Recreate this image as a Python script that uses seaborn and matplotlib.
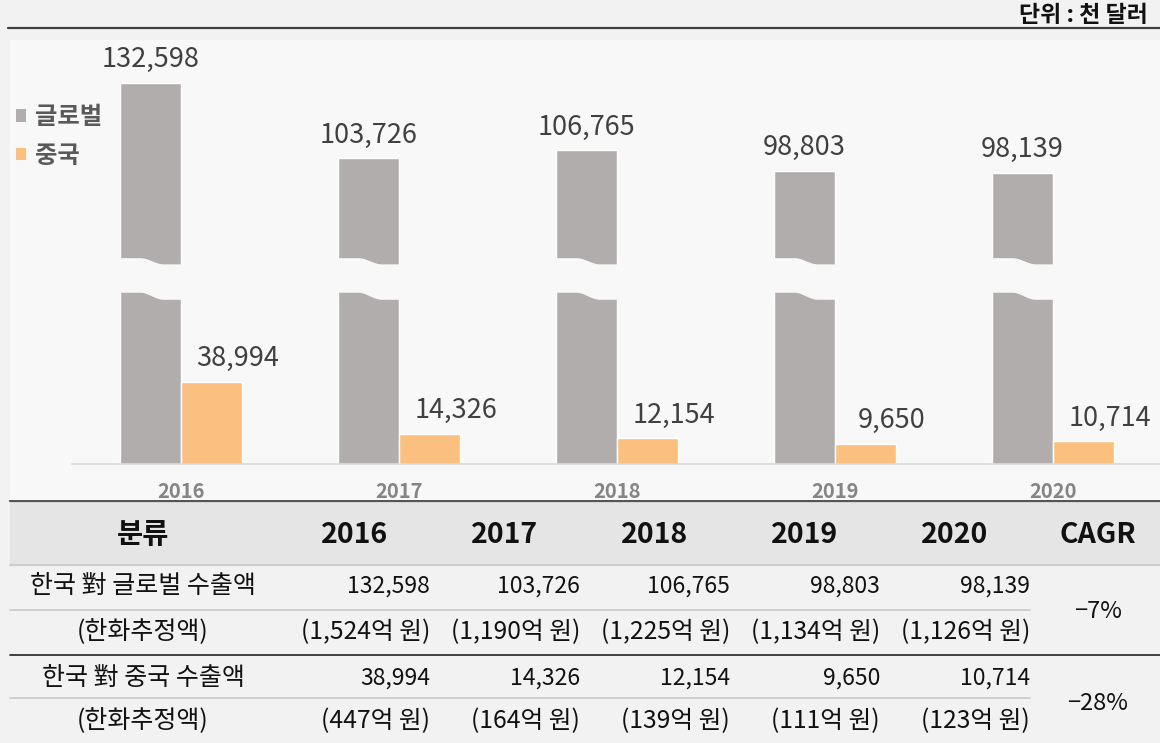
import numpy as np
import pandas as pd
import matplotlib
matplotlib.use('Agg')
import matplotlib.pyplot as plt
import matplotlib.transforms as mtransforms
from matplotlib.patches import Patch, Rectangle, Polygon
from matplotlib.lines import Line2D
import seaborn as sns

# ---------------------------
# 데이터
# ---------------------------
years = ['2016', '2017', '2018', '2019', '2020']
global_vals = [132598, 103726, 106765, 98803, 98139]
china_vals = [38994, 14326, 12154, 9650, 10714]
global_krw = ['(1,524억 원)', '(1,190억 원)', '(1,225억 원)', '(1,134억 원)', '(1,126억 원)']
china_krw = ['(447억 원)', '(164억 원)', '(139억 원)', '(111억 원)', '(123억 원)']
cagr = ['\u22127%', '\u221228%']
series_names = ['글로벌', '중국']
row_labels = ['한국 對 글로벌 수출액', '(한화추정액)', '한국 對 중국 수출액', '(한화추정액)']
header = ['분류'] + years + ['CAGR']
unit_text = '단위 : 천 달러'

df = pd.DataFrame({
    'year': years * 2,
    'series': [series_names[0]] * 5 + [series_names[1]] * 5,
    'value': global_vals + china_vals,
})

# ---------------------------
# 스타일
# ---------------------------
sns.set_theme(style='white')
plt.rcParams['font.family'] = ['Noto Sans CJK KR', 'DejaVu Sans']
plt.rcParams['axes.unicode_minus'] = False

FIG_BG = '#f2f2f2'
PANEL_BG = '#f8f8f8'
GRAY = '#b1adac'
ORANGE = '#fbbf80'
palette = {series_names[0]: GRAY, series_names[1]: ORANGE}

W, H = 1160, 743
fig = plt.figure(figsize=(W / 100, H / 100), dpi=100, facecolor=FIG_BG)


def fy(y):
    return 1 - y / H


# 차트 패널 배경 (축보다 뒤에)
fig.patches.append(Rectangle((10 / W, fy(500)), 1 - 10 / W, (500 - 40) / H,
                             transform=fig.transFigure, color=PANEL_BG, zorder=-5))

# 상단 구분선과 단위
fig.add_artist(Line2D([8 / W, 1], [fy(28), fy(28)], color='#404040', lw=1.6))
fig.text(1148 / W, fy(16), unit_text, ha='right', va='center', fontsize=16.5,
         fontweight='bold', color='#111111')

# ---------------------------
# 끊어진 축 막대그래프
# ---------------------------
x0, x1 = 72 / W, 1.0
ax_top = fig.add_axes([x0, fy(268), x1 - x0, (268 - 40) / H])
ax_bot = fig.add_axes([x0, fy(464), x1 - x0, (464 - 288) / H])

for ax in (ax_top, ax_bot):
    sns.barplot(data=df, x='year', y='value', hue='series', palette=palette,
                width=0.56, saturation=1, legend=False, ax=ax)
    ax.set_facecolor('none')
    ax.set_xlim(-0.5, 4.49)
    ax.set_xlabel('')
    ax.set_ylabel('')
    ax.set_yticks([])
    for s in ax.spines.values():
        s.set_visible(False)

ax_top.set_ylim(61700, 149000)
ax_bot.set_ylim(0, 83700)
ax_top.set_xticks([])
ax_bot.spines['bottom'].set_visible(True)
ax_bot.spines['bottom'].set_color('#d9d9d9')
ax_bot.spines['bottom'].set_linewidth(1.2)
ax_bot.tick_params(axis='x', length=0, pad=12, labelsize=14.5, labelcolor='#858585')
for lbl in ax_bot.get_xticklabels():
    lbl.set_fontweight('bold')

# 글로벌 값 라벨
ax_top.bar_label(ax_top.containers[0], labels=[f'{v:,}' for v in global_vals],
                 padding=7, fontsize=19.5, color='#404040')
# 중국 값 라벨 (오른쪽으로 약간 이동)
for p, v in zip(ax_bot.containers[1], china_vals):
    ax_bot.annotate(f'{v:,}', (p.get_x() + p.get_width() / 2, p.get_height()),
                    xytext=(19, 7), textcoords='offset points', ha='center',
                    va='bottom', fontsize=19.5, color='#404040')


# 물결 모양 끊김 표시
def smooth(t):
    t = np.clip(t, 0, 1)
    return t * t * (3 - 2 * t)


t = np.linspace(0, 1, 40)
wave = smooth((t - 0.35) / 0.35)
for p in ax_top.containers[0]:
    xs = p.get_x() - 0.01 + t * (p.get_width() + 0.02)
    tr = mtransforms.blended_transform_factory(ax_top.transData, ax_top.transAxes)
    ys = 0.040 - 0.027 * wave
    pts = np.column_stack([np.r_[xs[0], xs, xs[-1]], np.r_[-0.02, ys, -0.02]])
    ax_top.add_patch(Polygon(pts, closed=True, transform=tr, color=PANEL_BG,
                             clip_on=False, zorder=5))
for p in ax_bot.containers[0]:
    xs = p.get_x() - 0.01 + t * (p.get_width() + 0.02)
    tr = mtransforms.blended_transform_factory(ax_bot.transData, ax_bot.transAxes)
    ys = 0.977 - 0.040 * wave
    pts = np.column_stack([np.r_[xs[0], xs, xs[-1]], np.r_[1.03, ys, 1.03]])
    ax_bot.add_patch(Polygon(pts, closed=True, transform=tr, color=PANEL_BG,
                             clip_on=False, zorder=5))

# 범례
handles = [Patch(facecolor=palette[s], edgecolor='none') for s in series_names]
ax_top.legend(handles, series_names, loc='upper left',
              bbox_to_anchor=(16 / W, fy(105)), bbox_transform=fig.transFigure,
              frameon=False, borderpad=0, borderaxespad=0,
              handlelength=0.42, handleheight=0.42,
              handletextpad=0.35, labelspacing=0.6, labelcolor='#595959',
              prop={'weight': 'bold', 'size': 17.5})

# ---------------------------
# 하단 표
# ---------------------------
tab = fig.add_axes([0, 0, 1, fy(500)])
tab.set_xlim(0, W)
tab.set_ylim(H, 500)
tab.axis('off')

tab.add_patch(Rectangle((10, 501), W - 10, 64, color='#e5e5e5', zorder=0))
tab.plot([10, W], [501, 501], color='#555555', lw=1.6)
tab.plot([10, W], [565, 565], color='#c9c9c9', lw=1.2)
tab.plot([10, 1030], [610, 610], color='#c9c9c9', lw=1.2)
tab.plot([10, W], [655, 655], color='#222222', lw=1.2)
tab.plot([10, 1030], [698, 698], color='#c9c9c9', lw=1.2)

col_right = [430, 580, 730, 880, 1030]
label_cx = 143
cagr_cx = 1098

# 머리글
tab.text(label_cx, 535, header[0], ha='center', va='center', fontsize=20.5,
         fontweight='bold', color='#111111')
for xr, yr in zip(col_right, header[1:6]):
    tab.text(xr - 75, 535, yr, ha='center', va='center', fontsize=20.5,
             fontweight='bold', color='#111111')
tab.text(cagr_cx, 535, header[6], ha='center', va='center', fontsize=20.5,
         fontweight='bold', color='#111111')

rows_y = [586, 632, 678, 721]
row_vals = [[f'{v:,}' for v in global_vals], global_krw,
            [f'{v:,}' for v in china_vals], china_krw]
val_sizes = [16.5, 17.8, 16.5, 17.8]
for yy, lab, vals, fs in zip(rows_y, row_labels, row_vals, val_sizes):
    tab.text(label_cx, yy, lab, ha='center', va='center', fontsize=18, color='#111111')
    for xr, v in zip(col_right, vals):
        tab.text(xr, yy, v, ha='right', va='center', fontsize=fs, color='#111111')

tab.text(cagr_cx, 612, cagr[0], ha='center', va='center', fontsize=17, color='#111111')
tab.text(cagr_cx, 704, cagr[1], ha='center', va='center', fontsize=17, color='#111111')

fig.savefig('out.png', dpi=100, facecolor=FIG_BG)
